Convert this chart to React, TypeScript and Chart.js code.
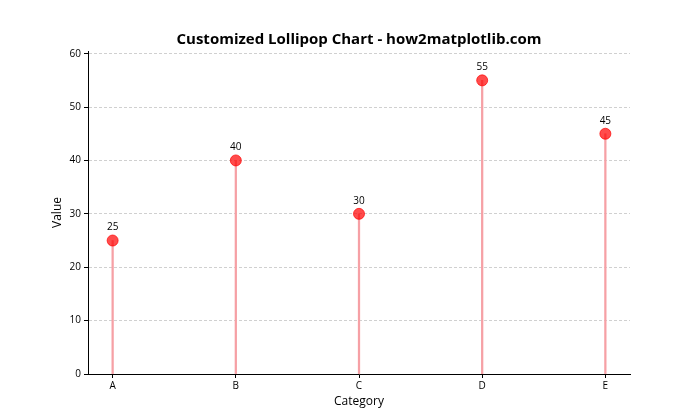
import React, { useEffect, useRef } from "react";
import { Chart, registerables } from "chart.js";

Chart.register(...registerables);

const categories = ["A", "B", "C", "D", "E"];
const values = [25, 40, 30, 55, 45];
const yTicks = [0, 10, 20, 30, 40, 50, 60];
const chartTitle = "Customized Lollipop Chart - how2matplotlib.com";
const xTitle = "Category";
const yTitle = "Value";

const FONT = "'Open Sans', 'DejaVu Sans', sans-serif";

const textPlugin = {
  id: "texts",
  afterDatasetsDraw(chart: any) {
    const { ctx, chartArea, scales } = chart;
    const cx = (chartArea.left + chartArea.right) / 2;
    ctx.save();
    ctx.fillStyle = "#000";
    ctx.textAlign = "center";
    ctx.textBaseline = "middle";
    ctx.font = `bold 15px ${FONT}`;
    ctx.fillText(chartTitle, cx, 40);
    ctx.font = `12px ${FONT}`;
    ctx.fillText(xTitle, cx, 402);
    ctx.save();
    ctx.translate(58, (chartArea.top + chartArea.bottom) / 2);
    ctx.rotate(-Math.PI / 2);
    ctx.fillText(yTitle, 0, 0);
    ctx.restore();
    ctx.font = `10px ${FONT}`;
    values.forEach((v, i) => {
      const px = scales.x.getPixelForValue(i);
      const py = scales.y.getPixelForValue(v);
      ctx.fillText(String(v), px, py - 13);
    });
    ctx.restore();
  },
};

export default function App() {
  const ref = useRef<HTMLCanvasElement>(null);
  useEffect(() => {
    document.body.style.margin = "0";
    const pts = values.map((v, i) => ({ x: i, y: v }));
    const chart = new Chart(ref.current!, {
      type: "scatter",
      data: {
        datasets: [
          {
            type: "scatter",
            data: pts,
            pointRadius: 5.5,
            pointBackgroundColor: "rgba(255,0,0,0.7)",
            pointBorderColor: "rgba(255,0,0,0.7)",
            pointBorderWidth: 1,
            order: 0,
          } as any,
          {
            type: "bar",
            data: pts,
            backgroundColor: "rgb(246,160,165)",
            borderWidth: 0,
            barThickness: 1.6,
            order: 1,
          } as any,
        ],
      },
      plugins: [textPlugin],
      options: {
        responsive: false,
        animation: false,
        layout: { padding: { top: 51, right: 70, left: 0, bottom: 0 } },
        plugins: {
          legend: { display: false },
          tooltip: { enabled: false },
          title: { display: false },
        },
        scales: {
          x: {
            type: "linear",
            min: -0.2,
            max: 4.2,
            offset: false,
            afterFit: (s: any) => {
              s.height = 46;
            },
            afterBuildTicks: (s: any) => {
              s.ticks = categories.map((_, i) => ({ value: i }));
            },
            ticks: {
              callback: (v: any) => categories[v] ?? "",
              color: "#000",
              font: { family: FONT, size: 10 },
              padding: 2,
              maxRotation: 0,
              autoSkip: false,
            },
            grid: {
              offset: false,
              drawOnChartArea: false,
              drawTicks: true,
              tickLength: 4,
              tickColor: "#000",
              tickWidth: 1,
            },
            border: { display: true, color: "#000", width: 1 },
          },
          y: {
            type: "linear",
            min: 0,
            max: 60.5,
            afterFit: (s: any) => {
              s.width = 88;
            },
            afterBuildTicks: (s: any) => {
              s.ticks = yTicks.map((v) => ({ value: v }));
            },
            ticks: {
              color: "#000",
              font: { family: FONT, size: 10 },
              padding: 3,
            },
            grid: {
              color: "rgba(170,170,170,0.7)",
              lineWidth: 0.8,
              drawTicks: true,
              tickLength: 4,
              tickColor: "#000",
              tickWidth: 1,
              tickBorderDash: [],
            } as any,
            border: { display: true, color: "#000", width: 1, dash: [3, 2] },
          },
        },
      },
    });
    return () => chart.destroy();
  }, []);
  return (
    <div style={{ position: "fixed", left: 0, top: 0, width: 700, height: 420, background: "#fff" }}>
      <canvas ref={ref} width={700} height={420} style={{ width: 700, height: 420 }} />
    </div>
  );
}
